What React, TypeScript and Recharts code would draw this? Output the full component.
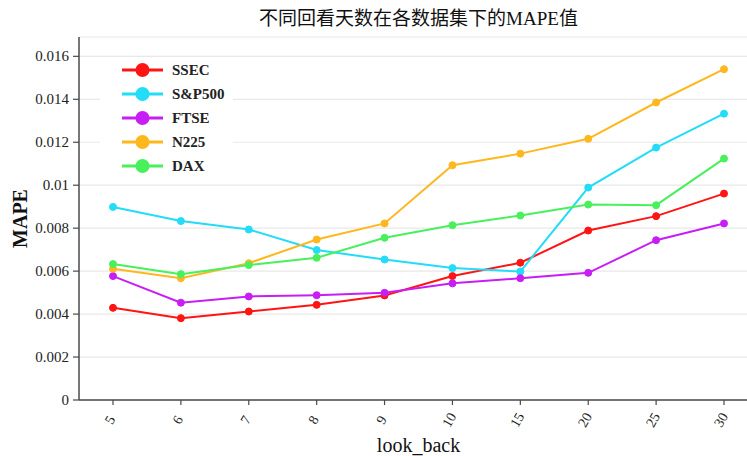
import React from 'react';
import { LineChart, Line, XAxis, YAxis, CartesianGrid, Legend } from 'recharts';

const lookBack = ['5', '6', '7', '8', '9', '10', '15', '20', '25', '30'];
const ssec = [0.00429, 0.00381, 0.00412, 0.00443, 0.00487, 0.00577, 0.00639, 0.00789, 0.00856, 0.00961];
const sp500 = [0.00899, 0.00833, 0.00794, 0.00698, 0.00654, 0.00614, 0.00598, 0.00989, 0.01175, 0.01333];
const ftse = [0.00577, 0.00453, 0.00482, 0.00488, 0.00499, 0.00543, 0.00567, 0.00592, 0.00744, 0.00822];
const n225 = [0.00611, 0.00567, 0.00637, 0.00747, 0.00822, 0.01093, 0.01147, 0.01216, 0.01385, 0.0154];
const dax = [0.00633, 0.00586, 0.00628, 0.00662, 0.00755, 0.00814, 0.00859, 0.0091, 0.00907, 0.01124];
const yTicks = [0, 0.002, 0.004, 0.006, 0.008, 0.01, 0.012, 0.014, 0.016];

const seriesNames = ['SSEC', 'S&P500', 'FTSE', 'N225', 'DAX'];
const seriesValues = [ssec, sp500, ftse, n225, dax];
const seriesColors = ['#ff1414', '#22dcf8', '#c81ef5', '#ffb71e', '#48f05c'];

const data = lookBack.map((lb, i) => {
  const row: Record<string, string | number> = { lookBack: lb };
  seriesNames.forEach((n, k) => {
    row[n] = seriesValues[k][i];
  });
  return row;
});

const FONT = "'Liberation Serif', 'Times New Roman', 'Noto Sans CJK SC', serif";
const AXIS = '#4a4a4a';

const XTick = (props: any) => {
  const { x, y, payload } = props;
  return (
    <g transform={`translate(${x - 3},${y + 13}) rotate(-60)`}>
      <text x={0} y={0} textAnchor="middle" dominantBaseline="central" style={{ fontFamily: FONT, fontSize: 14 }} fill="#222">
        {payload.value}
      </text>
    </g>
  );
};

const YTick = (props: any) => {
  const { x, y, payload } = props;
  return (
    <text x={x - 2} y={y} textAnchor="end" dominantBaseline="central" style={{ fontFamily: FONT, fontSize: 15 }} fill="#222">
      {String(payload.value)}
    </text>
  );
};

const LegendBox = () => (
  <div style={{ background: '#fff', width: 133, height: 125 }}>
    <svg width={133} height={125}>
      {seriesNames.map((n, i) => {
        const cy = 12 + i * 24;
        return (
          <g key={n}>
            <line x1={22} x2={63} y1={cy} y2={cy} stroke={seriesColors[i]} strokeWidth={3} />
            <circle cx={42.5} cy={cy} r={7} fill={seriesColors[i]} />
            <text x={72} y={cy} dominantBaseline="central" style={{ fontFamily: FONT, fontWeight: 'bold', fontSize: 15 }} fill="#222">
              {n}
            </text>
          </g>
        );
      })}
    </svg>
  </div>
);

export default function App() {
  return (
    <div style={{ position: 'absolute', left: 0, top: 0, width: 747, height: 456, overflow: 'hidden', background: '#fff' }}>
      <div
        style={{
          position: 'absolute',
          left: 79,
          width: 679,
          top: 7,
          textAlign: 'center',
          fontFamily: FONT,
          fontSize: 19,
          color: '#111',
          lineHeight: '24px',
          zIndex: 2,
        }}
      >
        不同回看天数在各数据集下的MAPE值
      </div>
      <LineChart width={770} height={456} data={data} margin={{ top: 37, right: 12, bottom: 0, left: 0 }}>
        <CartesianGrid vertical={false} stroke="#e8e8e8" strokeWidth={1.2} />
        <XAxis
          xAxisId="top"
          dataKey="lookBack"
          orientation="top"
          height={0}
          tick={false}
          tickLine={false}
          axisLine={{ stroke: AXIS, strokeWidth: 1.5 }}
          padding={{ left: 34, right: 34 }}
        />
        <XAxis
          dataKey="lookBack"
          height={56}
          padding={{ left: 34, right: 34 }}
          axisLine={{ stroke: AXIS, strokeWidth: 1.5 }}
          tickLine={{ stroke: AXIS, strokeWidth: 1.2 }}
          tickSize={5}
          tick={<XTick />}
          interval={0}
          label={(p: any) => {
            const vb = p.viewBox;
            return (
              <text x={vb.x + vb.width / 2} y={vb.y + 52} textAnchor="middle" style={{ fontFamily: FONT, fontSize: 20 }} fill="#111">
                look_back
              </text>
            );
          }}
        />
        <YAxis
          width={79}
          domain={[0, 0.0169]}
          ticks={yTicks}
          interval={0}
          allowDataOverflow
          axisLine={{ stroke: AXIS, strokeWidth: 1.5 }}
          tickLine={{ stroke: AXIS, strokeWidth: 1.2 }}
          tickSize={6}
          tick={<YTick />}
          label={(p: any) => {
            const vb = p.viewBox;
            const cx = vb.x + 20;
            const cy = vb.y + vb.height / 2;
            return (
              <text x={cx} y={cy} transform={`rotate(-90, ${cx}, ${cy})`} textAnchor="middle" dominantBaseline="central" style={{ fontFamily: FONT, fontWeight: 'bold', fontSize: 20 }} fill="#111">
                MAPE
              </text>
            );
          }}
        />
        <Legend
          layout="vertical"
          align="center"
          verticalAlign="middle"
          content={() => <LegendBox />}
          wrapperStyle={{ left: 100, top: 58, width: 133, height: 125 }}
        />
        {seriesNames.map((n, i) => (
          <Line
            key={n}
            type="linear"
            dataKey={n}
            stroke={seriesColors[i]}
            strokeWidth={2}
            dot={{ r: 3.5, fill: seriesColors[i], stroke: seriesColors[i], strokeWidth: 1 }}
            activeDot={false}
            isAnimationActive={false}
          />
        ))}
      </LineChart>
    </div>
  );
}
